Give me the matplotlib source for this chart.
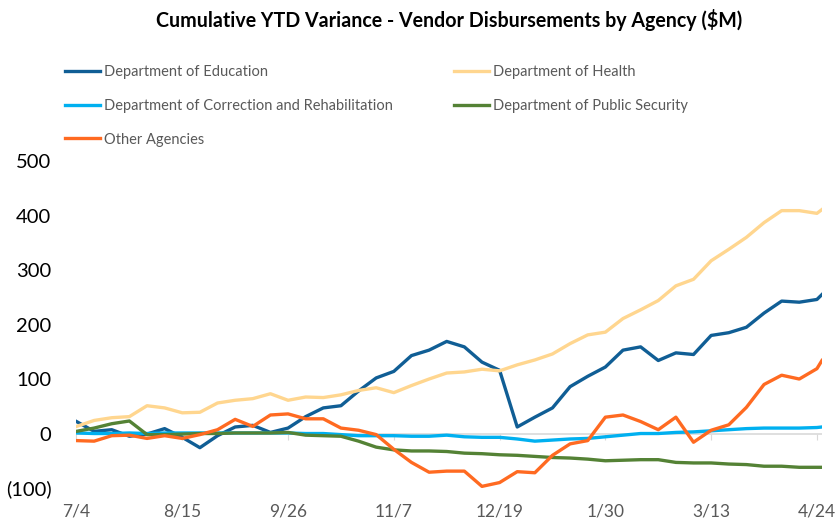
import numpy as np
import pandas as pd
import matplotlib
matplotlib.use("Agg")
import matplotlib.pyplot as plt

plt.rcParams['font.family'] = ['Lato', 'DejaVu Sans']

# weekly dates (Mondays) plus the last partial-week point
dates = list(pd.date_range("2022-07-04", periods=43, freq="7D")) + [pd.Timestamp("2023-04-26")]
tick_labels = ["7/4", "8/15", "9/26", "11/7", "12/19", "1/30", "3/13", "4/24"]

education = [22, 4, 7, -5, -1, 9, -7, -26, -4, 12, 15, 2, 10, 31, 47, 51, 78, 102, 114, 143,
             153, 169, 159, 131, 116, 12, 30, 47, 86, 105, 122, 153, 159, 134, 148, 145, 180, 185,
             195, 221, 243, 241, 246, 255]
health = [13, 24, 29, 31, 51, 47, 38, 39, 56, 61, 64, 73, 61, 67, 66, 71, 79, 84, 75, 88,
          100, 111, 113, 118, 115, 126, 135, 146, 165, 181, 186, 211, 227, 244, 271, 283, 317, 338,
          360, 387, 409, 409, 404, 411]
correction = [1, 0, 0, 1, 0, 1, 1, 1, 1, 1, 1, 1, 1, 0, 0, -2, -4, -4, -4, -5,
              -5, -3, -6, -7, -7, -10, -14, -12, -10, -9, -6, -3, 0, 0, 2, 3, 5, 7,
              9, 10, 10, 10, 11, 12]
security = [4, 10, 18, 23, -2, -2, -1, 0, 0, 1, 1, 1, 2, -3, -4, -5, -14, -25, -30, -32,
            -32, -33, -36, -37, -39, -40, -42, -44, -45, -47, -50, -49, -48, -48, -53, -54, -54, -56,
            -57, -60, -60, -62, -62, -62]
other = [-13, -14, -4, -3, -9, -4, -9, -2, 7, 26, 13, 34, 36, 27, 27, 10, 6, -2, -29, -53,
         -71, -69, -69, -97, -90, -70, -72, -40, -19, -13, 30, 34, 22, 7, 30, -16, 6, 16,
         48, 90, 107, 100, 119, 134]

series = [
    ("Department of Education", education, "#105E95"),
    ("Department of Health", health, "#FFD68F"),
    ("Department of Correction and Rehabilitation", correction, "#00B0F0"),
    ("Department of Public Security", security, "#548235"),
    ("Other Agencies", other, "#FF6A21"),
]

fig = plt.figure(figsize=(8.36, 5.19), dpi=100)
ax = fig.add_axes([0.0915, 0.0597, 0.8917, 0.630])

ax.axhline(0, color="#D9D9D9", lw=1.2, zorder=1)
lines = {}
for name, vals, col in series:
    lines[name], = ax.plot(dates, vals, color=col, lw=2.4, label=name, zorder=3)

ax.set_ylim(-100, 500)
ax.set_xlim(dates[0], dates[-1])
ax.set_yticks([-100, 0, 100, 200, 300, 400, 500])
ax.set_yticklabels(["(100)", "0", "100", "200", "300", "400", "500"])
ax.set_xticks(dates[:43:6])
ax.set_xticklabels(tick_labels)

for s in ax.spines.values():
    s.set_visible(False)
ax.tick_params(axis="y", length=0, pad=18, labelsize=14.5, labelcolor="black")
ax.tick_params(axis="x", length=0, pad=11, labelsize=12.5, labelcolor="#595959")

# small tick marks on the zero line
sec = ax.secondary_xaxis(0, transform=ax.transData)
sec.set_xticks(dates[:43:6])
sec.tick_params(axis="x", direction="out", length=4, color="#D9D9D9", labelbottom=False)
sec.spines["bottom"].set_visible(False)

fig.suptitle("Cumulative YTD Variance - Vendor Disbursements by Agency ($M)",
             x=0.537, y=0.982, fontsize=14.1, fontweight="bold")

order = ["Department of Education", "Department of Correction and Rehabilitation", "Other Agencies",
         "Department of Health", "Department of Public Security"]
fig.legend([lines[n] for n in order], order, ncol=2, loc="upper left",
           bbox_to_anchor=(0.0776, 0.875), frameon=False, fontsize=10.5,
           labelcolor="#595959", handlelength=2.4, handletextpad=0.25,
           columnspacing=4.25, labelspacing=1.36, borderaxespad=0, borderpad=0)

fig.savefig("out.png", dpi=100)
